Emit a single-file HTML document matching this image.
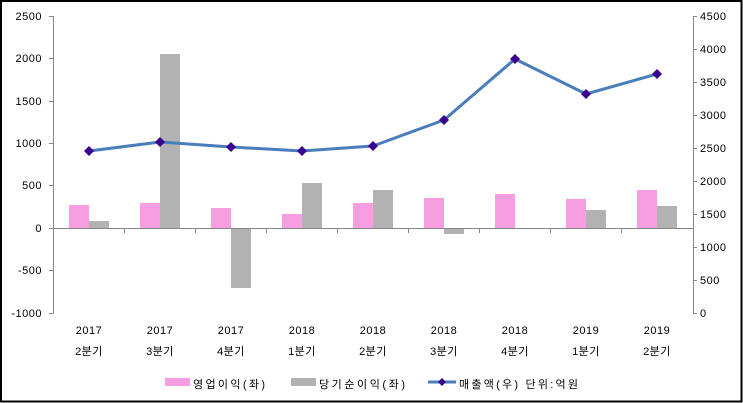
<!DOCTYPE html>
<html><head><meta charset="utf-8"><style>
html,body{margin:0;padding:0;background:#fff}
svg{display:block}
text{font-family:"Liberation Sans","Noto Sans CJK KR",sans-serif;font-size:11px;fill:#000}
</style></head><body>
<svg width="743" height="403" viewBox="0 0 743 403" xmlns="http://www.w3.org/2000/svg">
<rect x="1" y="1" width="740.5" height="400.5" fill="#fff" stroke="#000" stroke-width="2"/>
<g fill="#f79ee0">
<rect x="69" y="205" width="20" height="23"/>
<rect x="140" y="203" width="20" height="25"/>
<rect x="211" y="208" width="20" height="20"/>
<rect x="282" y="214" width="20" height="14"/>
<rect x="353" y="203" width="20" height="25"/>
<rect x="424" y="198" width="20" height="30"/>
<rect x="495" y="194" width="20" height="34"/>
<rect x="566" y="199" width="20" height="29"/>
<rect x="637" y="190" width="20" height="38"/>
</g>
<g fill="#b2b2b2">
<rect x="89" y="221" width="20" height="7"/>
<rect x="160" y="54" width="20" height="174"/>
<rect x="231" y="228" width="20" height="60"/>
<rect x="302" y="183" width="20" height="45"/>
<rect x="373" y="190" width="20" height="38"/>
<rect x="444" y="228" width="20" height="6"/>
<rect x="586" y="210" width="20" height="18"/>
<rect x="657" y="206" width="20" height="22"/>
</g>
<g stroke="#868686" stroke-width="1" fill="none">
<path d="M53.5 16V313.5M693.5 16V313.5M53 228.5H693"/>
<path d="M49 16.5h4M49 58.5h4M49 101.5h4M49 143.5h4M49 185.5h4M49 228.5h4M49 270.5h4M49 313.5h4"/>
<path d="M693 16.5h4M693 49.5h4M693 82.5h4M693 115.5h4M693 148.5h4M693 181.5h4M693 214.5h4M693 247.5h4M693 280.5h4M693 313.5h4"/>
<path d="M124.5 228v5M195.5 228v5M266.5 228v5M337.5 228v5M408.5 228v5M479.5 228v5M550.5 228v5M621.5 228v5"/>
</g>
<g text-anchor="end" letter-spacing="0.5">
<text x="42" y="20">2500</text><text x="42" y="62">2000</text><text x="42" y="105">1500</text><text x="42" y="147">1000</text><text x="42" y="189">500</text><text x="42" y="232">0</text><text x="42" y="274">-500</text><text x="42" y="317">-1000</text>
</g>
<g letter-spacing="0.5">
<text x="700" y="20">4500</text><text x="700" y="53">4000</text><text x="700" y="86">3500</text><text x="700" y="119">3000</text><text x="700" y="152">2500</text><text x="700" y="185">2000</text><text x="700" y="218">1500</text><text x="700" y="251">1000</text><text x="700" y="284">500</text><text x="700" y="317">0</text>
</g>
<g text-anchor="middle" letter-spacing="0.5">
<text x="89" y="334">2017</text><text x="89" y="355" font-size="12">2분기</text>
<text x="160" y="334">2017</text><text x="160" y="355" font-size="12">3분기</text>
<text x="231" y="334">2017</text><text x="231" y="355" font-size="12">4분기</text>
<text x="302" y="334">2018</text><text x="302" y="355" font-size="12">1분기</text>
<text x="373" y="334">2018</text><text x="373" y="355" font-size="12">2분기</text>
<text x="444" y="334">2018</text><text x="444" y="355" font-size="12">3분기</text>
<text x="515" y="334">2018</text><text x="515" y="355" font-size="12">4분기</text>
<text x="586" y="334">2019</text><text x="586" y="355" font-size="12">1분기</text>
<text x="657" y="334">2019</text><text x="657" y="355" font-size="12">2분기</text>
</g>
<polyline points="89,151 160,142 231,147 302,151 373,146 444,120 515,59 586,94 657,74" fill="none" stroke="#4a7ebb" stroke-width="3" stroke-linejoin="round"/>
<g fill="#3a0090">
<path d="M89 146l5 5-5 5-5-5z"/><path d="M160 137l5 5-5 5-5-5z"/><path d="M231 142l5 5-5 5-5-5z"/><path d="M302 146l5 5-5 5-5-5z"/><path d="M373 141l5 5-5 5-5-5z"/><path d="M444 115l5 5-5 5-5-5z"/><path d="M515 54l5 5-5 5-5-5z"/><path d="M586 89l5 5-5 5-5-5z"/><path d="M657 69l5 5-5 5-5-5z"/>
</g>
<rect x="165" y="378" width="25" height="8" fill="#f79ee0"/>
<text x="193" y="388" font-size="13" textLength="72" lengthAdjust="spacing">영업이익(좌)</text>
<rect x="291" y="378" width="25" height="8" fill="#b2b2b2"/>
<text x="319" y="388" font-size="13" textLength="86" lengthAdjust="spacing">당기순이익(좌)</text>
<line x1="428" y1="382" x2="456" y2="382" stroke="#4a7ebb" stroke-width="3"/>
<path d="M442 378l4 4-4 4-4-4z" fill="#3a0090"/>
<text x="459" y="388" font-size="13" textLength="119" lengthAdjust="spacing">매출액(우)  단위:억원</text>
</svg>
</body></html>
